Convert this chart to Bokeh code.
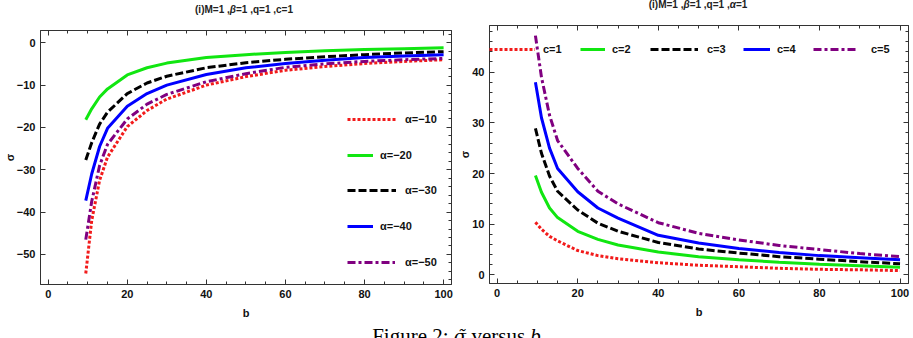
from bokeh.plotting import figure
from bokeh.models import (Range1d, LinearAxis, Legend, LegendItem, Div,
                          SingleIntervalTicker, CustomJSTickFormatter)
from bokeh.layouts import row, column
from bokeh.embed import file_html
from bokeh.resources import INLINE

# ---------------- data ----------------
b = [9.5, 11, 13, 15, 20, 25, 30, 40, 50, 60, 70, 80, 90, 100]

# left panel: sigma vs b for different alpha (M=1, beta=1, q=1, c=1)
sig_a10 = [-54.5, -42.0, -32.5, -27.0, -19.8, -16.0, -13.3, -10.0, -8.0, -6.5, -5.6, -4.9, -4.4, -4.0]
sig_a20 = [-18.2, -15.6, -12.8, -10.9, -7.6, -5.9, -4.8, -3.5, -2.8, -2.3, -1.9, -1.6, -1.4, -1.2]
sig_a30 = [-27.7, -23.6, -19.2, -16.4, -12.0, -9.5, -7.9, -5.9, -4.7, -3.9, -3.3, -2.8, -2.4, -2.1]
sig_a40 = [-37.3, -31.0, -24.5, -20.2, -15.0, -12.0, -10.0, -7.5, -5.9, -4.9, -4.1, -3.5, -3.1, -2.8]
sig_a50 = [-46.5, -37.5, -29.0, -24.0, -18.0, -14.5, -12.2, -9.2, -7.3, -5.8, -5.0, -4.4, -4.0, -3.7]
alpha_labels = ["α=−10", "α=−20", "α=−30", "α=−40", "α=−50"]

# right panel: sigma vs b for different c (M=1, beta=1, q=1, alpha=1)
sig_c1 = [10.4, 9.0, 7.6, 6.7, 4.8, 3.8, 3.2, 2.4, 1.9, 1.6, 1.3, 1.1, 1.0, 0.85]
sig_c2 = [19.6, 16.3, 13.2, 11.3, 8.6, 7.0, 5.9, 4.5, 3.6, 3.0, 2.5, 2.1, 1.8, 1.5]
sig_c3 = [28.9, 24.0, 19.5, 16.5, 12.8, 10.2, 8.6, 6.4, 5.1, 4.3, 3.6, 3.1, 2.6, 2.2]
sig_c4 = [38.0, 31.0, 25.0, 21.0, 16.4, 13.2, 11.2, 7.8, 6.3, 5.2, 4.4, 3.8, 3.4, 3.0]
sig_c5 = [47.2, 39.0, 31.5, 26.5, 21.0, 16.5, 14.0, 10.3, 8.2, 6.9, 5.8, 5.0, 4.2, 3.6]
c_labels = ["c=1", "c=2", "c=3", "c=4", "c=5"]

left_yticks = [-50, -40, -30, -20, -10, 0]
left_ytick_labels = ["−50", "−40", "−30", "−20", "−10", "0"]

title_left = "(i)M=1 ,<i>β</i>=1 ,q=1 ,c=1"
title_right = "(i)M=1 ,<i>β</i>=1 ,q=1 ,<i>α</i>=1"
caption = ('Figure 2: <i style="font-family:\'DejaVu Serif\',serif;font-size:18px;">σ̃</i>'
           ' versus <i>b</i>')

# ---------------- styles ----------------
FONT = "Liberation Sans"
AX = "#333333"
RED, GREEN, BLACK, BLUE, PURPLE = "#f21b1b", "#11e611", "#000000", "#0000ff", "#800080"
DOT, DASH, DASHDOT = "3 2", "8 3", "8 3 3 3"


def style_axis(ax, labels=True):
    ax.axis_line_color = AX
    ax.major_tick_line_color = AX
    ax.minor_tick_line_color = AX
    ax.major_tick_in = 5
    ax.major_tick_out = 0
    ax.minor_tick_in = 3
    ax.minor_tick_out = 0
    if labels:
        ax.major_label_text_font = FONT
        ax.major_label_text_font_size = "11px"
        ax.major_label_text_font_style = "bold"
        ax.major_label_text_color = "#111111"
        ax.major_label_standoff = 5
        ax.axis_label_text_font = FONT
        ax.axis_label_text_font_size = "11px"
        ax.axis_label_text_font_style = "bold"
        ax.axis_label_text_color = "#111111"
    else:
        ax.formatter = CustomJSTickFormatter(code="return ''")
        ax.major_label_standoff = 0


def make_fig(width, height, xr, yr, borders, yinterval):
    p = figure(width=width, height=height, x_range=xr, y_range=yr,
               output_backend="svg", toolbar_location=None, title=None,
               x_axis_location=None, y_axis_location=None)
    p.min_border_left, p.min_border_right, p.min_border_top, p.min_border_bottom = borders
    p.xgrid.visible = False
    p.ygrid.visible = False
    p.outline_line_color = AX
    p.background_fill_color = "white"
    p.border_fill_color = "white"
    xt = dict(interval=20, num_minor_ticks=4)
    yt = dict(interval=yinterval, num_minor_ticks=5)
    xb = LinearAxis(ticker=SingleIntervalTicker(**xt), axis_label="b", axis_label_standoff=6)
    yl = LinearAxis(ticker=SingleIntervalTicker(**yt), axis_label="σ")
    xa = LinearAxis(ticker=SingleIntervalTicker(**xt))
    yr_ = LinearAxis(ticker=SingleIntervalTicker(**yt))
    style_axis(xb)
    style_axis(yl)
    style_axis(xa, labels=False)
    style_axis(yr_, labels=False)
    p.add_layout(xb, "below")
    p.add_layout(yl, "left")
    p.add_layout(xa, "above")
    p.add_layout(yr_, "right")
    return p, yl


def title_div(text, width, center, top):
    html = ('<div style="position:absolute;top:%dpx;left:%dpx;transform:translateX(-50%%);'
            'font-family:\'Liberation Sans\',sans-serif;font-weight:bold;font-size:10px;'
            'line-height:12px;color:#222;white-space:nowrap;">%s</div>'
            % (top, center, text))
    return Div(text=html, width=width, height=16, margin=0)


def add_leg(p, r, label, x, y, gw, standoff):
    leg = Legend(items=[LegendItem(label=label, renderers=[r])], location=(x, y),
                 glyph_width=gw, glyph_height=12, label_height=12, label_standoff=standoff,
                 padding=0, margin=0, spacing=0, border_line_alpha=0,
                 background_fill_alpha=0, label_text_font=FONT,
                 label_text_font_size="11px", label_text_font_style="bold",
                 label_text_color="#111111")
    p.add_layout(leg)


FIG_H = 309
W1, W2 = 454, 459

# ---------------- left panel ----------------
p1, yl1 = make_fig(W1, FIG_H, Range1d(-1.95, 102.0), Range1d(-57.1, 2.9), (39, 3, 14, 41), 10)
yl1.ticker = left_yticks
yl1.major_label_overrides = {v: s for v, s in zip(left_yticks, left_ytick_labels)}
yl1.axis_label_standoff = -2

lw = 3
r10 = p1.line(b, sig_a10, line_color=RED, line_width=lw, line_dash=DOT)
r20 = p1.line(b, sig_a20, line_color=GREEN, line_width=lw)
r30 = p1.line(b, sig_a30, line_color=BLACK, line_width=lw, line_dash=DASH)
r40 = p1.line(b, sig_a40, line_color=BLUE, line_width=lw)
r50 = p1.line(b, sig_a50, line_color=PURPLE, line_width=lw, line_dash=DASHDOT)

add_leg(p1, r10, alpha_labels[0], 307, 159, 49, 9)
add_leg(p1, r20, alpha_labels[1], 307, 123, 26, 7)
add_leg(p1, r30, alpha_labels[2], 307, 88, 49, 9)
add_leg(p1, r40, alpha_labels[3], 307, 52, 26, 7)
add_leg(p1, r50, alpha_labels[4], 307, 16, 48, 10)

# ---------------- right panel ----------------
p2, yl2 = make_fig(W2, FIG_H, Range1d(-1.9, 102.1), Range1d(-1.7, 49.2), (35, 5, 9, 42), 10)
yl2.axis_label_standoff = -2

c1 = p2.line(b, sig_c1, line_color=RED, line_width=lw, line_dash=DOT)
c2 = p2.line(b, sig_c2, line_color=GREEN, line_width=lw)
c3 = p2.line(b, sig_c3, line_color=BLACK, line_width=lw, line_dash=DASH)
c4 = p2.line(b, sig_c4, line_color=BLUE, line_width=lw)
c5 = p2.line(b, sig_c5, line_color=PURPLE, line_width=lw, line_dash=DASHDOT)

add_leg(p2, c1, c_labels[0], 0, 228, 46, 8)
add_leg(p2, c2, c_labels[1], 91, 228, 25, 7)
add_leg(p2, c3, c_labels[2], 161, 228, 48, 9)
add_leg(p2, c4, c_labels[3], 254, 228, 27, 7)
add_leg(p2, c5, c_labels[4], 324, 228, 45, 13)

t1 = title_div(title_left, W1, 244, 4)
t2 = title_div(title_right, W2, 244, -1)

cap = Div(text='<div style="position:relative;top:1px;font-family:\'Liberation Serif\',serif;'
               'font-size:21px;line-height:21px;text-align:center;width:913px;white-space:nowrap;">'
               + caption + '</div>', width=913, height=21, margin=0)

layout = column(row(column(t1, p1), column(t2, p2)), cap)
open("out.html", "w").write(file_html(layout, INLINE))
